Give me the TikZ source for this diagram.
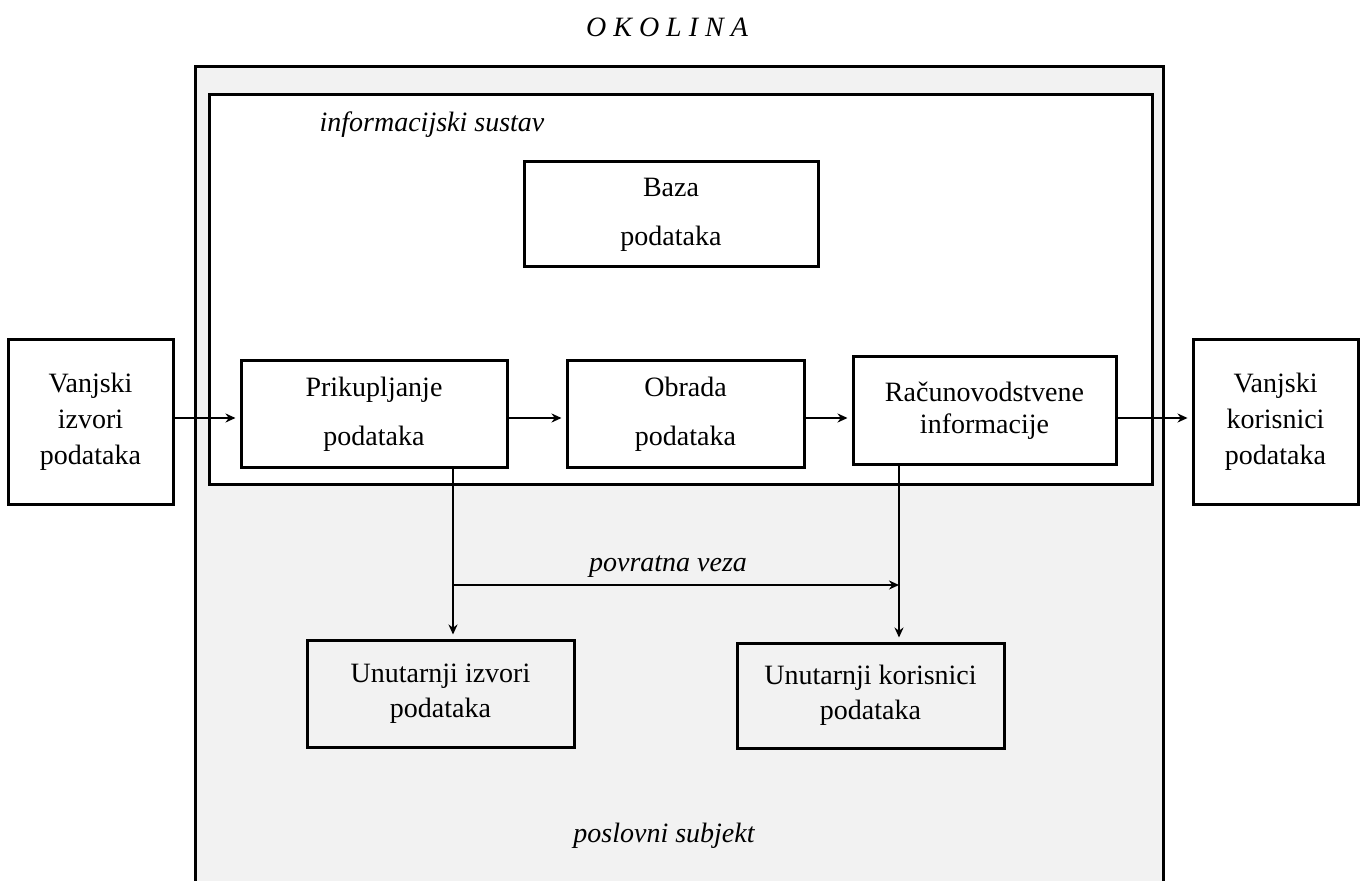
\documentclass[tikz,border=0pt]{standalone}
\usepackage{fontspec}
\setmainfont{Liberation Serif}
\usetikzlibrary{arrows.meta}
\begin{document}
\begin{tikzpicture}[x=0.5pt,y=-0.5pt,
  box/.style={draw,line width=1.5pt,align=center,inner sep=0pt,font=\fontsize{14}{18}\selectfont},
  wbox/.style={box,fill=white},
  lbl/.style={font=\fontsize{14}{18}\selectfont\itshape,inner sep=0pt},
  arr/.style={line width=1pt,-{Stealth[length=5pt,width=4.5pt]},shorten >=2pt},
  frame/.style={line width=1.5pt}]
\useasboundingbox (0,0) rectangle (1363,881);
\fill[white] (0,0) rectangle (1363,881);
% outer box (poslovni subjekt)
\fill[black!5] (195,67) rectangle (1163,881);
\draw[frame] (195,881) -- (195,67) -- (1163,67) -- (1163,881);
% inner box (informacijski sustav)
\draw[frame,fill=white] (209,95) rectangle (1152,484);

\node[lbl] (okolina) at (667,27) {O\ K\ O\ L\ I\ N\ A};
\node[lbl] (is) at (432,125) {informacijski sustav};
\node[lbl] (ps) at (664,836) {poslovni subjekt};
\node[lbl] (pv) at (668,567) {povratna veza};

\node[wbox,minimum width=147pt,minimum height=52.5pt,font=\fontsize{14}{24.5}\selectfont] (baza) at (671,214.5) {Baza\\podataka};
\node[wbox,minimum width=82.5pt,minimum height=82pt] (vi) at (90.5,422) {Vanjski\\izvori\\podataka};
\node[wbox,minimum width=82.5pt,minimum height=82pt] (vk) at (1275.5,422) {Vanjski\\korisnici\\podataka};
\node[wbox,minimum width=133pt,minimum height=53pt,font=\fontsize{14}{24.5}\selectfont] (prik) at (374,414) {Prikupljanje\\podataka};
\node[wbox,minimum width=118.5pt,minimum height=53pt,font=\fontsize{14}{24.5}\selectfont] (obr) at (685.5,414) {Obrada\\podataka};
\node[wbox,minimum width=131.5pt,minimum height=53.5pt,font=\fontsize{14}{16}\selectfont] (rac) at (984.5,410.5) {Računovodstvene\\informacije};
\node[box,minimum width=133.5pt,minimum height=53.5pt,font=\fontsize{14}{17.5}\selectfont] (ui) at (440.5,693.5) {Unutarnji izvori\\podataka};
\node[box,minimum width=133.5pt,minimum height=52.5pt,font=\fontsize{14}{17.5}\selectfont] (uk) at (870.5,695.5) {Unutarnji korisnici\\podataka};

\coordinate (row) at (0,418);
\coordinate (c1) at (453,0);
\coordinate (c2) at (899,0);
\coordinate (fb) at (0,585);

\draw[arr] (vi.east |- row) -- (prik.west |- row);
\draw[arr] (prik.east |- row) -- (obr.west |- row);
\draw[arr] (obr.east |- row) -- (rac.west |- row);
\draw[arr] (rac.east |- row) -- (vk.west |- row);
\draw[arr] (prik.south -| c1) -- (ui.north -| c1);
\draw[arr] (rac.south -| c2) -- (uk.north -| c2);
\draw[arr,shorten >=0pt] (c1 |- fb) -- (c2 |- fb);
\end{tikzpicture}
\end{document}
